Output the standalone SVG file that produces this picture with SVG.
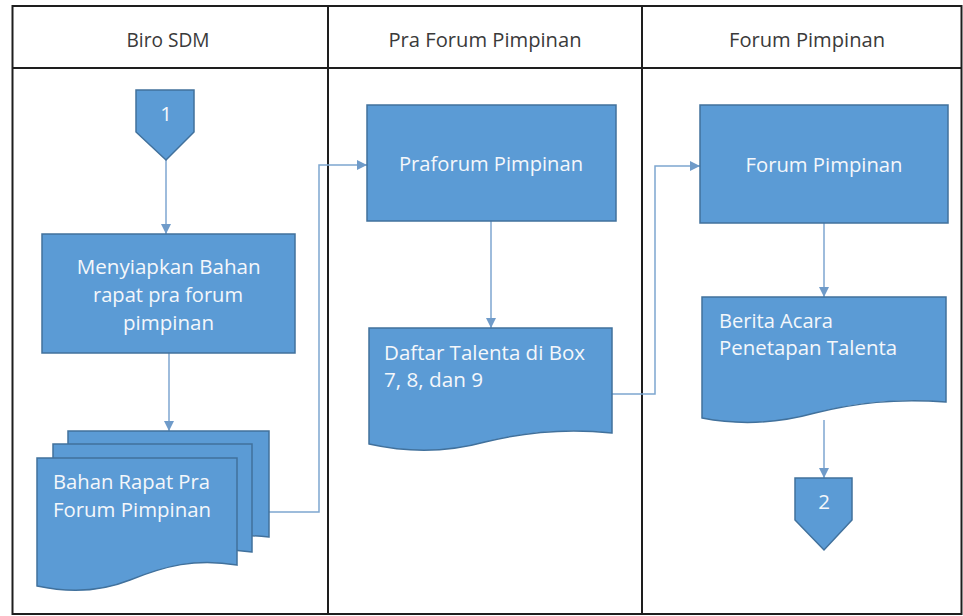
<svg xmlns="http://www.w3.org/2000/svg" width="963" height="616" viewBox="0 0 963 616">
<style>
.lane{fill:none;stroke:#1e1e1e;stroke-width:2}
.hdr{font-family:"Open Sans","Liberation Sans",sans-serif;font-size:19.5px;fill:#3a3a3a;text-anchor:middle}
.shape{fill:#5b9bd5;stroke:#41719c;stroke-width:1.5}
.lbl{font-family:"Open Sans","Liberation Sans",sans-serif;font-size:20.5px;fill:#f4f7fb}
.mid{text-anchor:middle}
.con{fill:none;stroke:#7ea6d0;stroke-width:1.5}
</style>
<defs>
<marker id="ah" viewBox="0 0 10 10" refX="10" refY="5" markerWidth="10" markerHeight="10" markerUnits="userSpaceOnUse" orient="auto">
<path d="M0,0 L10,5 L0,10 Z" fill="#6f9bc9"/>
</marker>
</defs>
<rect width="963" height="616" fill="#ffffff"/>
<g id="lanes">
<rect class="lane" x="12.5" y="6" width="949" height="608"/>
<line class="lane" x1="12.5" y1="68" x2="961.5" y2="68"/>
<line class="lane" x1="328" y1="6" x2="328" y2="614"/>
<line class="lane" x1="642" y1="6" x2="642" y2="614"/>
<text class="hdr" x="168" y="47" textLength="83" lengthAdjust="spacingAndGlyphs">Biro SDM</text>
<text class="hdr" x="485" y="47" textLength="193" lengthAdjust="spacingAndGlyphs">Pra Forum Pimpinan</text>
<text class="hdr" x="807" y="47" textLength="156" lengthAdjust="spacingAndGlyphs">Forum Pimpinan</text>
</g>
<g id="connectors">
<path class="con" d="M166,160 V234" marker-end="url(#ah)"/>
<path class="con" d="M169,353 V431" marker-end="url(#ah)"/>
<path class="con" d="M269,512 H319 V165 H367" marker-end="url(#ah)"/>
<path class="con" d="M491,221 V328" marker-end="url(#ah)"/>
<path class="con" d="M612,394 H655 V166 H700" marker-end="url(#ah)"/>
<path class="con" d="M824,223 V297" marker-end="url(#ah)"/>
<path class="con" d="M824,420 V478" marker-end="url(#ah)"/>
</g>
<g id="start1">
<path class="shape" d="M136,90 H194 V132 L166,160 L136,132 Z"/>
<text class="lbl mid" x="166" y="121">1</text>
</g>
<g id="menyiapkan">
<rect class="shape" x="42" y="234" width="253" height="119"/>
<text class="lbl mid" x="168.7" y="274" textLength="184" lengthAdjust="spacingAndGlyphs">Menyiapkan Bahan</text>
<text class="lbl mid" x="168" y="302" textLength="150" lengthAdjust="spacingAndGlyphs">rapat pra forum</text>
<text class="lbl mid" x="168.5" y="330" textLength="91" lengthAdjust="spacingAndGlyphs">pimpinan</text>
</g>
<g id="bahan-rapat">
<path class="shape" d="M68,431 H269 V537 C225,532 195,540 160,552 C130,562 100,562 68,557 Z"/>
<path class="shape" d="M53,444 H252 V552 C208,546 178,554 144,566 C114,577 84,577 53,572 Z"/>
<path class="shape" d="M37,458 H237 V565 C195,558 165,566 130,580 C100,592 70,593 37,586 Z"/>
<text class="lbl" x="53" y="489" textLength="157" lengthAdjust="spacingAndGlyphs">Bahan Rapat Pra</text>
<text class="lbl" x="53" y="517" textLength="158" lengthAdjust="spacingAndGlyphs">Forum Pimpinan</text>
</g>
<g id="praforum">
<rect class="shape" x="367" y="105" width="249" height="116"/>
<text class="lbl mid" x="491" y="171" textLength="184" lengthAdjust="spacingAndGlyphs">Praforum Pimpinan</text>
</g>
<g id="daftar-talenta">
<path class="shape" d="M369,328 H612 V433 C565,428 525,432 485,442 C445,453 405,452 369,444 Z"/>
<text class="lbl" x="384" y="360" textLength="201" lengthAdjust="spacingAndGlyphs">Daftar Talenta di Box</text>
<text class="lbl" x="384" y="387" textLength="99" lengthAdjust="spacingAndGlyphs">7, 8, dan 9</text>
</g>
<g id="forum">
<rect class="shape" x="700" y="105" width="248" height="118"/>
<text class="lbl mid" x="824" y="172" textLength="157" lengthAdjust="spacingAndGlyphs">Forum Pimpinan</text>
</g>
<g id="berita-acara">
<path class="shape" d="M702,297 H946 V402 C895,398 855,403 815,413 C775,424 738,425 702,418 Z"/>
<text class="lbl" x="719" y="328" textLength="114" lengthAdjust="spacingAndGlyphs">Berita Acara</text>
<text class="lbl" x="719" y="355" textLength="178" lengthAdjust="spacingAndGlyphs">Penetapan Talenta</text>
</g>
<g id="end2">
<path class="shape" d="M795,478 H852 V520 L824,550 L795,520 Z"/>
<text class="lbl mid" x="824" y="509">2</text>
</g>
</svg>
